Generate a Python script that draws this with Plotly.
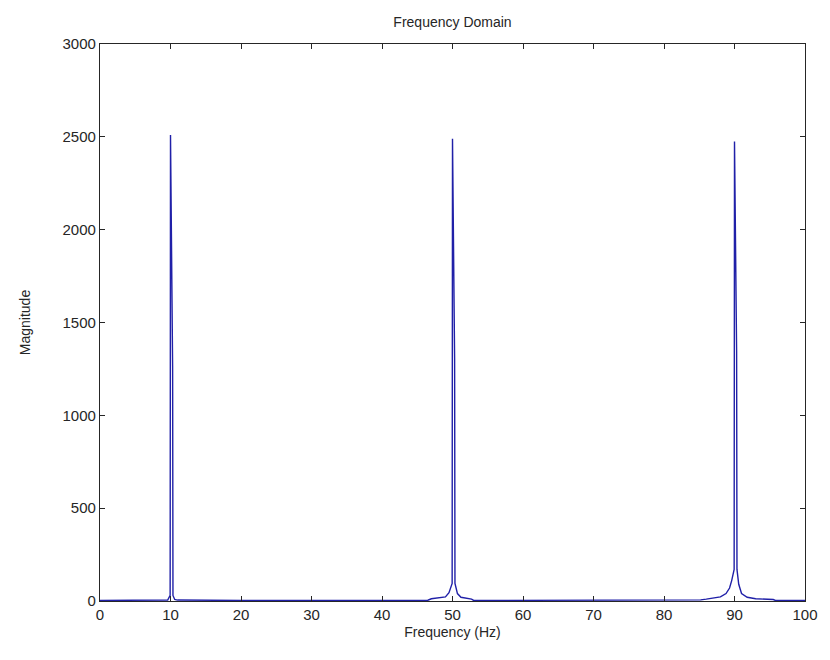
import plotly.graph_objects as go

# Frequency (Hz) sample points
freq_hz = [0, 5, 9.6, 9.95, 10.0, 10.3, 10.35, 10.6, 11, 20, 30, 40,
           46.5, 47.0, 48.0, 49.0, 49.5, 49.95, 50.0, 50.3, 50.35, 50.7, 51.2, 52.0, 52.7, 53.0,
           60, 70, 80,
           85.2, 86.0, 87.0, 88.0, 88.8, 89.3, 89.6, 89.95, 90.0, 90.3, 90.35, 90.6, 91.0, 91.8, 93.0, 95.5, 95.8, 100]
# Magnitude at each sample point
magnitude = [3, 3, 5, 30, 2510, 1265, 30, 8, 5, 3, 3, 3,
             4, 12, 16, 22, 45, 95, 2490, 1305, 95, 40, 20, 14, 10, 3,
             3, 3, 3,
             6, 10, 14, 22, 40, 70, 110, 170, 2475, 1345, 170, 90, 40, 20, 12, 8, 3, 3]

x_ticks = [0, 10, 20, 30, 40, 50, 60, 70, 80, 90, 100]
y_ticks = [0, 500, 1000, 1500, 2000, 2500, 3000]

fig = go.Figure()
fig.add_trace(go.Scatter(x=freq_hz, y=magnitude, mode="lines",
                         line=dict(color="#2020a8", width=1.4), showlegend=False))

axis_common = dict(showgrid=False, zeroline=False, showline=True, linecolor="#262626",
                   linewidth=1.3, mirror="ticks", ticks="inside", ticklen=5,
                   tickcolor="#262626", tickwidth=1,
                   tickfont=dict(family="Liberation Sans, Arial", size=15, color="#262626"))

fig.update_layout(
    width=830, height=660,
    paper_bgcolor="white", plot_bgcolor="white",
    margin=dict(l=100, r=22, t=44, b=59),
    title=dict(text="Frequency Domain", x=0.5, xref="paper", y=0.966, yanchor="middle",
               font=dict(family="Liberation Sans, Arial", size=14, color="#262626")),
    xaxis=dict(range=[0, 100], tickvals=x_ticks, ticktext=[str(v) for v in x_ticks],
               title=dict(text="Frequency (Hz)", standoff=5,
                          font=dict(family="Liberation Sans, Arial", size=14, color="#262626")),
               **axis_common),
    yaxis=dict(range=[0, 3000], tickvals=y_ticks, ticktext=[str(v) for v in y_ticks],
               title=dict(text="Magnitude", standoff=28,
                          font=dict(family="Liberation Sans, Arial", size=14, color="#262626")),
               **axis_common),
)

fig.write_html("out.html")
